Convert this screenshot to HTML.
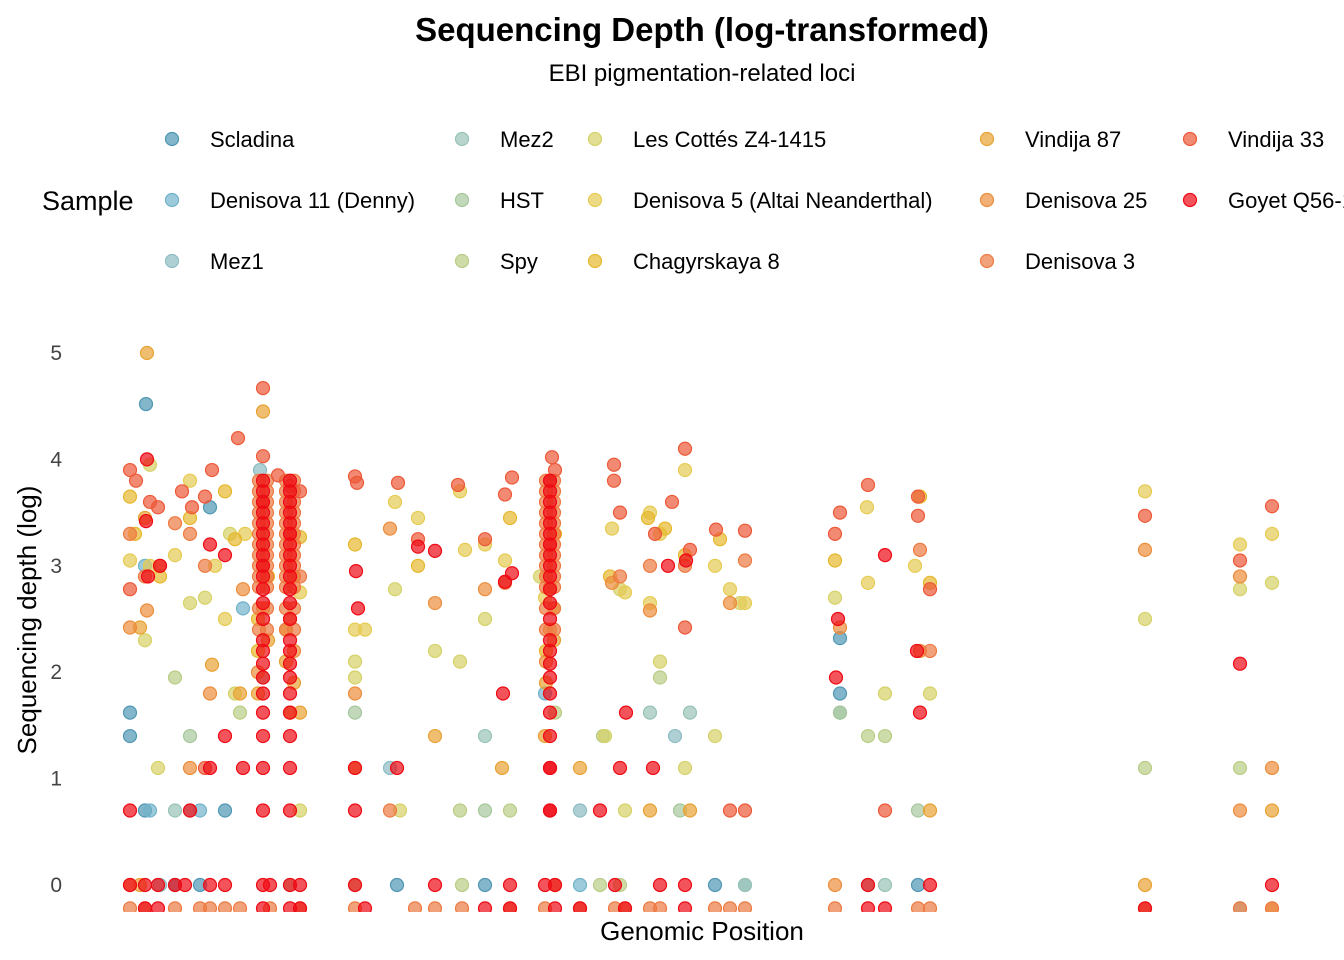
<!DOCTYPE html>
<html><head><meta charset="utf-8"><style>
body{margin:0;background:#fff;}
svg{display:block;font-family:"Liberation Sans",sans-serif;}
</style></head><body>
<svg id="chart" width="1344" height="960" viewBox="0 0 1344 960" xmlns="http://www.w3.org/2000/svg">
<defs><clipPath id="plotclip"><rect x="100" y="300" width="1244" height="612"/></clipPath></defs>
<text x="702" y="41" text-anchor="middle" font-size="33" font-weight="bold" fill="#000">Sequencing Depth (log-transformed)</text>
<text x="702" y="81" text-anchor="middle" font-size="24" fill="#000">EBI pigmentation-related loci</text>
<text x="42" y="210" font-size="27" fill="#000">Sample</text>
<g id="legend"></g>
<g id="yaxis"></g>
<text transform="translate(36,620) rotate(-90)" text-anchor="middle" font-size="26" fill="#000">Sequencing depth (log)</text>
<text x="702" y="940" text-anchor="middle" font-size="26" fill="#000">Genomic Position</text>
<g id="points" clip-path="url(#plotclip)"></g>
</svg>
<script>
const sampleNames=["Scladina","Denisova 11 (Denny)","Mez1","Mez2","HST","Spy","Les Cottés Z4-1415","Denisova 5 (Altai Neanderthal)","Chagyrskaya 8","Vindija 87","Denisova 25","Denisova 3","Vindija 33","Goyet Q56-1"];
const sampleColors=["#4f97b3","#72b3ca","#8bbcc2","#98c3b6","#a6c79c","#b9cd86","#d6d268","#e6cb52","#e6b82e","#e8a233","#ec8d3c","#ed7a42","#ec5838","#ee0a14"];
const yTicks=[0,1,2,3,4,5];
const scladina=[[146,4.52],[130,1.62],[130,1.4],[210,3.55],[840,2.32],[840,1.8],[145,0.7],[225,0.7],[485,0],[397,0],[175,0],[200,0],[715,0],[918,0]];
const denisova11=[[243,2.6],[145,3.0],[150,0.7],[200,0.7],[580,0],[545,1.8]];
const mez1=[[260,3.9],[390,1.1],[675,1.4],[580,0.7],[160,0],[745,0],[190,0.7]];
const mez2=[[690,1.62],[650,1.62],[485,1.4],[175,0.7],[840,1.62],[868,0],[885,0],[745,0],[1240,-0.22]];
const hst=[[263,1.95],[485,0.7],[355,1.62],[840,1.62],[918,0.7],[680,0.7],[190,1.4],[290,0]];
const spy=[[175,1.95],[240,1.62],[660,1.95],[460,0.7],[510,0.7],[555,1.62],[603,1.4],[885,1.4],[868,1.4],[1145,1.1],[1240,1.1],[355,0],[462,0],[620,0],[600,0]];
const lesCottes=[[150,3.95],[145,2.3],[158,1.1],[190,2.65],[205,2.7],[230,3.3],[235,1.8],[355,2.1],[355,1.95],[395,2.78],[435,2.2],[460,2.1],[485,2.5],[540,2.9],[605,1.4],[620,2.78],[660,2.1],[685,1.1],[715,1.4],[740,2.65],[835,2.7],[885,1.8],[930,1.8],[1145,2.5],[1240,2.78],[1272,2.84],[400,0.7],[625,0.7],[300,0.7]];
const denisova5=[[130,3.05],[150,3.0],[175,3.1],[190,3.8],[215,3.0],[225,2.5],[245,3.3],[300,2.75],[355,2.4],[365,2.4],[395,3.6],[418,3.45],[460,3.7],[465,3.15],[485,3.2],[505,3.05],[545,2.7],[612,3.35],[625,2.75],[650,2.65],[660,3.3],[685,3.9],[715,3.0],[730,2.78],[745,2.65],[868,2.84],[915,3.0],[1145,3.7],[1240,3.2],[1272,3.3],[867,3.55],[650,3.5]];
const chagyrskaya8=[[130,3.65],[135,3.3],[160,2.9],[190,3.45],[225,3.7],[235,3.25],[300,3.27],[355,3.2],[418,3.0],[510,3.45],[555,3.3],[610,2.9],[648,3.45],[665,3.35],[685,3.1],[720,3.25],[835,3.05],[920,3.65],[930,2.84],[258,2.2],[258,2.5],[268,2.9],[286,2.4],[294,2.9],[546,2.2],[554,2.6]];
const vindija87=[[147,5.0],[263,4.45],[145,3.45],[140,2.42],[140,0],[240,1.8],[212,2.07],[290,1.62],[300,1.62],[355,1.1],[435,1.4],[502,1.1],[545,1.4],[580,1.1],[1145,0],[1272,0.7],[650,0.7],[690,0.7],[930,0.7],[1272,-0.22],[258,1.8],[268,2.3],[286,2.1],[294,1.9],[546,1.9],[554,2.3]];
const denisova25=[[130,2.42],[147,2.58],[160,3.0],[190,1.1],[210,1.8],[243,2.78],[355,1.8],[390,3.35],[435,2.65],[485,2.78],[550,2.8],[612,2.84],[650,2.58],[730,2.65],[840,2.42],[920,2.2],[1145,3.15],[1240,2.9],[1272,1.1],[1240,0.7],[835,0],[130,0],[263,2.6],[290,2.5],[550,2.4],[258,2.0],[294,2.2],[546,2.1]];
const denisova3=[[130,3.3],[145,2.9],[175,3.4],[190,3.3],[205,3.0],[300,2.9],[505,2.84],[620,2.9],[650,3.0],[685,3.0],[745,3.05],[930,2.2],[920,3.15],[555,0],[390,0.7]];
const denisova3ColumnValues=[2.4,2.6,2.8,2.9,3.0,3.1,3.2,3.3,3.4,3.5,3.6,3.7,3.8];
const denisova3Columns=[259,267,286,294,546,554];
const denisova3Bottom=[130,145,175,200,210,225,240,270,300,355,415,435,462,510,545,580,615,625,650,660,715,730,745,835,918,930,1145,1240,1272];
const vindija33=[[130,3.9],[136,3.8],[150,3.6],[158,3.55],[182,3.7],[192,3.55],[205,3.65],[212,3.9],[238,4.2],[263,4.67],[263,4.03],[278,3.85],[300,3.7],[355,3.84],[357,3.78],[398,3.78],[418,3.25],[458,3.76],[485,3.25],[505,3.67],[512,3.83],[552,4.02],[555,3.9],[614,3.95],[614,3.8],[620,3.5],[655,3.3],[672,3.6],[685,4.1],[690,3.15],[716,3.34],[745,3.33],[835,3.3],[840,3.5],[868,3.76],[918,3.65],[918,3.47],[930,2.78],[1145,3.47],[1272,3.56],[1240,3.05],[130,2.78],[205,1.1],[685,2.42],[730,0.7],[745,0.7],[885,0.7],[263,3.0],[263,3.6],[290,3.3],[290,3.75],[550,3.2],[550,3.8]];
const goyet=[[147,4.0],[146,3.42],[148,2.9],[160,3.0],[210,3.2],[225,3.1],[356,2.95],[358,2.6],[418,3.18],[435,3.14],[505,2.85],[512,2.93],[503,1.8],[626,1.62],[686,3.05],[668,3.0],[838,2.5],[836,1.95],[885,3.1],[917,2.2],[920,1.62],[1240,2.08],[130,0.7],[190,0.7],[225,1.4],[210,1.1],[243,1.1],[397,1.1],[355,1.1],[620,1.1],[653,1.1],[600,0.7],[355,0.7],[550,1.1],[550,0.7]];
const goyetColumnValues=[0.7,1.1,1.4,1.62,1.8,1.95,2.08,2.2,2.3,2.5,2.65,2.78,2.9,3.0,3.1,3.2,3.3,3.4,3.5,3.6,3.7,3.8];
const goyetColumns=[263,290,550];
const goyetZero=[130,145,158,175,185,210,225,263,270,290,300,355,435,510,545,555,615,660,685,868,930,1272];
const goyetBottom=[145,158,263,290,300,365,485,510,555,580,625,685,868,885,1145];

const xScale=p=>130+(p-130)*1.0;
const yScale=v=>885-v*106.4;
const NS="http://www.w3.org/2000/svg";
function circle(parent,cx,cy,color,r){
  const c=document.createElementNS(NS,'circle');
  c.setAttribute('cx',cx);c.setAttribute('cy',cy);c.setAttribute('r',r);
  c.setAttribute('fill',color);c.setAttribute('fill-opacity','0.7');
  c.setAttribute('stroke',color);c.setAttribute('stroke-width','1.2');
  parent.appendChild(c);return c;
}
const ya=document.getElementById('yaxis');
yTicks.forEach(t=>{
  const tx=document.createElementNS(NS,'text');
  
  
  tx.setAttribute('x',62);tx.setAttribute('y',yScale(t)+7);
  tx.setAttribute('text-anchor','end');tx.setAttribute('font-size','21');tx.setAttribute('fill','#444');
  tx.textContent=t;ya.appendChild(tx);
});
const lg=document.getElementById('legend');
const colX=[172,462,595,987,1190];
const layout=[[0,0],[0,1],[0,2],[1,0],[1,1],[1,2],[2,0],[2,1],[2,2],[3,0],[3,1],[3,2],[4,0],[4,1]];
sampleNames.forEach((n,i)=>{
  const [c,r]=layout[i];const y=139+r*61;
  const g=document.createElementNS(NS,'g');
  
  
  circle(g,colX[c],y,sampleColors[i],6.5);
  const t=document.createElementNS(NS,'text');
  t.setAttribute('x',colX[c]+38);t.setAttribute('y',y+8);t.setAttribute('font-size','22');t.setAttribute('fill','#000');
  t.textContent=n;g.appendChild(t);lg.appendChild(g);
});
const pg=document.getElementById('points');
const series=[scladina,denisova11,mez1,mez2,hst,spy,lesCottes,denisova5,chagyrskaya8,vindija87,denisova25,denisova3,vindija33,goyet];
const extra={11:[].concat(denisova3Columns.flatMap(p=>denisova3ColumnValues.map(v=>[p,v])),denisova3Bottom.map(p=>[p,-0.22])),13:[].concat(goyetColumns.flatMap(p=>goyetColumnValues.map(v=>[p,v])),goyetZero.map(p=>[p,0]),goyetBottom.map(p=>[p,-0.22]))};
series.forEach((arr,i)=>{
  const all=arr.concat(extra[i]||[]);
  all.forEach(([p,v])=>{
    const c=circle(pg,xScale(p),yScale(v),sampleColors[i],6.5);
    
    
  });
});
</script>
</body></html>
